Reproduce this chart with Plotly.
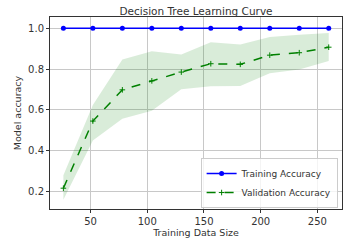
import plotly.graph_objects as go

train_sizes = [26, 52, 78, 104, 130, 156, 182, 208, 234, 260]
train_acc = [1.0] * 10
val_acc = [0.216, 0.545, 0.698, 0.742, 0.785, 0.826, 0.823, 0.868, 0.880, 0.907]
val_upper = [0.280, 0.624, 0.847, 0.887, 0.871, 0.931, 0.920, 0.957, 0.968, 0.977]
val_lower = [0.159, 0.450, 0.556, 0.596, 0.701, 0.715, 0.717, 0.779, 0.798, 0.839]
x_ticks = [50, 100, 150, 200, 250]
y_ticks = [0.2, 0.4, 0.6, 0.8, 1.0]

fig = go.Figure()
fig.add_trace(go.Scatter(x=train_sizes, y=train_acc, mode="lines+markers",
                         name="Training Accuracy",
                         line=dict(color="blue", width=1.5),
                         marker=dict(color="blue", size=5, symbol="circle")))
fig.add_trace(go.Scatter(x=train_sizes, y=val_upper, mode="lines", line=dict(width=0),
                         showlegend=False, hoverinfo="skip"))
fig.add_trace(go.Scatter(x=train_sizes, y=val_lower, mode="lines", line=dict(width=0),
                         fill="tonexty", fillcolor="rgba(0,128,0,0.15)",
                         showlegend=False, hoverinfo="skip"))
fig.add_trace(go.Scatter(x=train_sizes, y=val_acc, mode="lines+markers",
                         name="Validation Accuracy",
                         line=dict(color="green", width=1.5, dash="dash"),
                         marker=dict(color="green", size=4, symbol="cross-thin",
                                     line=dict(color="green", width=1))))

axis_common = dict(showline=True, linecolor="#333", linewidth=1, mirror=True,
                   showgrid=True, gridcolor="#c8c8c8", gridwidth=1,
                   ticks="outside", ticklen=3, tickcolor="#333",
                   zeroline=False, tickfont=dict(size=10, color="#333"))

fig.update_layout(
    width=355, height=248,
    margin=dict(l=50, r=12, t=17, b=37),
    paper_bgcolor="white", plot_bgcolor="white",
    font=dict(family="DejaVu Sans", color="#333"),
    title=dict(text="Decision Tree Learning Curve", x=0.5, xref="paper", xanchor="center",
               y=1 - 11 / 248, yanchor="middle", font=dict(size=10.5, color="#333")),
    xaxis=dict(range=[14.2, 271.7], tickvals=x_ticks,
               title=dict(text="Training Data Size", font=dict(size=9.5), standoff=2),
               **axis_common),
    yaxis=dict(range=[0.114, 1.055], tickvals=y_ticks, tickformat=".1f",
               title=dict(text="Model accuracy", font=dict(size=9.5), standoff=4),
               **axis_common),
    legend=dict(x=0.985, y=0.005, xanchor="right", yanchor="bottom",
                traceorder="normal",
                bgcolor="rgba(255,255,255,0.8)", bordercolor="#ccc", borderwidth=1,
                font=dict(size=9, color="#333"), tracegroupgap=0,
                itemwidth=30),
    showlegend=True,
)

fig.write_html("out.html", config={"displayModeBar": False},
               post_script="document.body.style.margin='0';document.body.style.padding='0';")
